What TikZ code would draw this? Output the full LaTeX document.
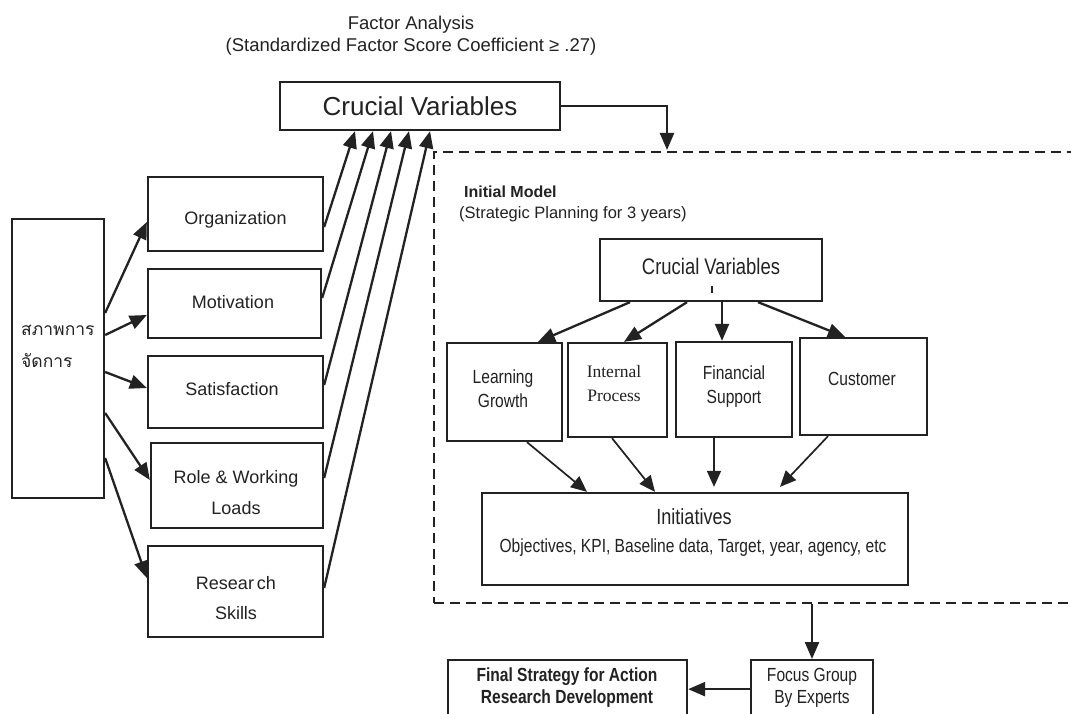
\documentclass[tikz,border=0pt]{standalone}
\usepackage{fontspec}
\setmainfont{Liberation Sans}
\newfontfamily\narrowsf[FakeStretch=0.82]{Liberation Sans}
\newfontfamily\timesrm{Liberation Serif}
\newfontfamily\thaifont[Script=Thai]{Loma}
\usetikzlibrary{arrows.meta,calc}
\definecolor{ink}{HTML}{222222}
\newcommand\fsz[2]{\fontsize{#1}{#2}\selectfont}
\tikzset{
  box/.style={draw=ink, line width=2.3pt, inner sep=0pt},
  lbl/.style={inner sep=0pt, text=ink, align=center},
  arr/.style={draw=ink, line width=2.3pt, -{Triangle[length=17pt,width=14pt]}},
  thin arr/.style={draw=ink, line width=1.7pt, -{Triangle[length=16pt,width=14pt]}},
  frame/.style={draw=ink, line width=2.2pt, dash pattern=on 10pt off 6pt, inner sep=0pt},
}
\begin{document}
\begin{tikzpicture}[x=1pt,y=-1pt]
\useasboundingbox[fill=white] (0,0) rectangle (1071,714);
\clip (0,0) rectangle (1071,714);

% heading
\node[lbl, font=\fsz{18.5}{22}] (head) at (411,36)
  {Factor Analysis\\(Standardized Factor Score Coefficient ≥ .27)};

% top box
\node[box, minimum width=280pt, minimum height=48pt] (cvtop) at (420,106) {};
\node[lbl, font=\fsz{26}{30}] (cvtopT) at (420,106) {Crucial Variables};

% management condition box
\node[box, minimum width=92pt, minimum height=279pt] (thai) at (58,358.5) {};
\node[lbl, anchor=west, align=left, font={\thaifont\fsz{17.5}{32}}] (thaiT) at (21,346)
  {สภาพการ\\จัดการ};

% factor boxes
\node[box, minimum width=175pt, minimum height=74pt] (org)  at (235.5,214) {};
\node[box, minimum width=173pt, minimum height=69pt] (mot)  at (234.5,303.5) {};
\node[box, minimum width=175pt, minimum height=72pt] (sat)  at (235.5,392) {};
\node[box, minimum width=172pt, minimum height=85pt] (role) at (237,485.5) {};
\node[box, minimum width=175pt, minimum height=91pt] (res)  at (235.5,591.5) {};
\node[lbl, font=\fsz{18}{22}] (orgT)  at (235.5,220) {Organization};
\node[lbl, font=\fsz{18}{22}] (motT)  at (233,302) {Motivation};
\node[lbl, font=\fsz{18}{22}] (satT)  at (232,389) {Satisfaction};
\node[lbl, font=\fsz{18}{31}] (roleT) at (236,493) {Role \& Working\\Loads};
\node[lbl, font=\fsz{18}{30}] (resT)  at (236,598) {Resear\,ch\\Skills};

% condition -> factors
\draw[arr] (thai.east |- 0,313) -- (org.west |- 0,222);
\draw[arr] (thai.east |- 0,335) -- (mot.west |- 0,315);
\draw[arr] (thai.east |- 0,372) -- (sat.west |- 0,388);
\draw[arr] (thai.east |- 0,413) -- (role.west |- 0,480);
\draw[arr] (thai.east |- 0,458) -- (res.west |- 0,578);

% factors -> crucial variables
\draw[arr] (org.east |- 0,227)  -- (cvtop.south -| 355,0);
\draw[arr] (mot.east |- 0,298)  -- (cvtop.south -| 373,0);
\draw[arr] (sat.east |- 0,385)  -- (cvtop.south -| 391,0);
\draw[arr] (role.east |- 0,478) -- (cvtop.south -| 409,0);
\draw[arr] (res.east |- 0,588)  -- (cvtop.south -| 430,0);

% initial model frame
\node[frame, minimum width=656pt, minimum height=451pt] (model) at (762,377.5) {};
\coordinate (modelIn) at (667,150);
\draw[arr] (cvtop.east) -| (modelIn);

\node[lbl, anchor=west, font=\bfseries\fsz{16}{20}] (initT) at (464,192) {Initial Model};
\node[lbl, anchor=west, font=\fsz{16.5}{20}] (planT) at (459,214) {(Strategic Planning for 3 years)};

% inner crucial variables
\node[box, minimum width=222pt, minimum height=62pt] (cvin) at (711,270) {};
\node[lbl, font={\narrowsf\fsz{22.5}{26}}] (cvinT) at (711,266) {Crucial Variables};
\draw[ink, line width=2pt] ($(cvin.center)+(1,16)$) -- ++(0,7);

% perspectives
\node[box, minimum width=115pt, minimum height=98pt] (lg) at (504.5,392) {};
\node[box, minimum width=99pt,  minimum height=94pt] (ip) at (617.5,390) {};
\node[box, minimum width=116pt, minimum height=95pt] (fs) at (734,389.5) {};
\node[box, minimum width=127pt, minimum height=97pt] (cu) at (863.5,386.5) {};
\node[lbl, font={\narrowsf\fsz{19}{23.5}}] (lgT) at (503,388.5) {Learning\\Growth};
\node[lbl, font={\timesrm\fsz{17.5}{24}}] (ipT) at (614,384) {Internal\\Process};
\node[lbl, font={\narrowsf\fsz{19}{24}}] (fsT) at (734,387) {Financial\\Support};
\node[lbl, font={\narrowsf\fsz{19}{23}}] (cuT) at (862,379) {Customer};

\draw[arr] (cvin.south -| 630,0) -- (lg.north -| 538,0);
\draw[arr] (cvin.south -| 687,0) -- (ip.north -| 624,0);
\draw[arr] (cvin.south -| 722,0) -- (fs.north -| 722,0);
\draw[arr] (cvin.south -| 758,0) -- (cu.north -| 845,0);

% initiatives
\node[box, minimum width=426pt, minimum height=92pt] (init) at (695,539) {};
\node[lbl, font={\narrowsf\fsz{22}{31}}] (initsT) at (694,517) {Initiatives};
\node[lbl, font={\narrowsf\fsz{19}{23}}] (objT) at (693,548)
  {Objectives, KPI, Baseline data, Target, year, agency, etc};

\draw[thin arr] (lg.south -| 527,0) -- (init.north -| 587,0);
\draw[thin arr] (ip.south -| 612,0) -- (init.north -| 655,0);
\draw[thin arr] (fs.south -| 714,0) -- ([yshift=5pt]init.north -| 714,0);
\draw[thin arr] (cu.south -| 828,0) -- ([yshift=5pt]init.north -| 780,0);

% final steps
\node[box, minimum width=122pt, minimum height=58pt, anchor=north] (focus) at (812,659) {};
\node[box, minimum width=239pt, minimum height=58pt, anchor=north] (final) at (567.5,659) {};
\node[lbl, font={\narrowsf\fsz{19}{22}}] (focusT) at (812,688) {Focus Group\\By Experts};
\node[lbl, font={\narrowsf\bfseries\fsz{19}{22}}] (finalT) at (567,688)
  {Final Strategy for Action\\Research Development};

\draw[arr] (model.south -| focus) -- (focus.north);
\draw[arr] (focus.west) -- (final.east);
\end{tikzpicture}
\end{document}
